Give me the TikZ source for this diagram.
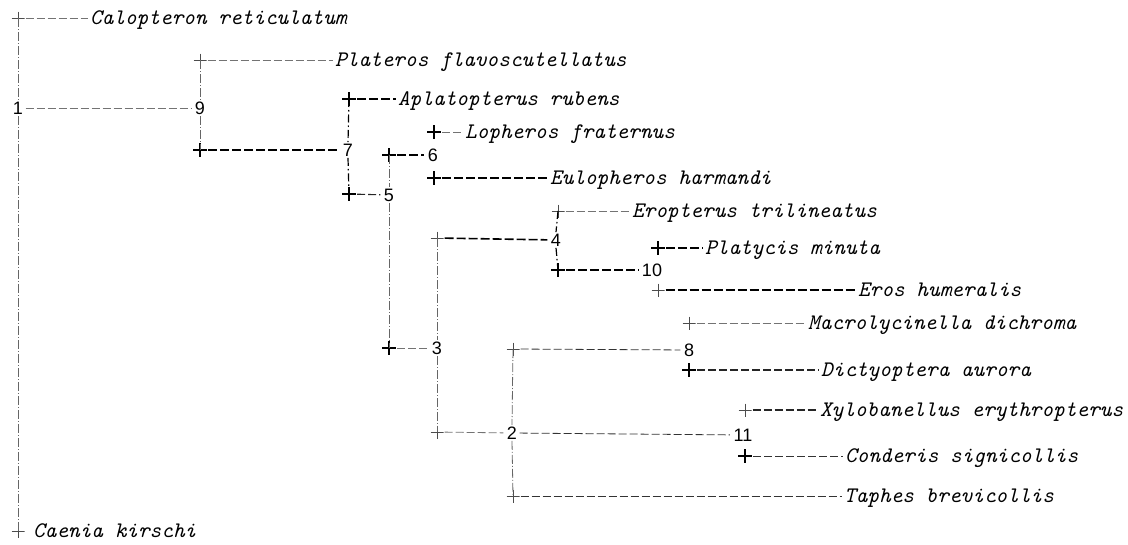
\documentclass[tikz,border=0pt]{standalone}
\usepackage{fontspec}
\setmainfont{Liberation Sans}

\tikzset{
  x=1pt, y=-1pt,
  taxon/.style={anchor=mid west, inner sep=0pt, yshift=-3.5pt,
    font=\ttfamily\itshape\fontsize{22.2}{23}\selectfont},
  num/.style={inner sep=1.5pt, font=\fontsize{18}{18}\selectfont},
  plus/.style={minimum size=13pt, inner sep=0pt,
    path picture={\draw[black!70, line width=0.8pt]
      (path picture bounding box.north) -- (path picture bounding box.south)
      (path picture bounding box.west) -- (path picture bounding box.east);}},
  plusbold/.style={minimum size=14pt, inner sep=0pt,
    path picture={\draw[black, line width=1.5pt]
      (path picture bounding box.north) -- (path picture bounding box.south)
      (path picture bounding box.west) -- (path picture bounding box.east);}},
  hthin/.style={draw=black!55, line width=0.8pt, dash pattern=on 8pt off 3pt,
    shorten >=2pt, shorten <=1pt},
  hmid/.style={draw=black!85, line width=1.1pt, dash pattern=on 8pt off 3pt,
    shorten >=2pt, shorten <=1pt},
  hbold/.style={draw=black, line width=1.6pt, dash pattern=on 9pt off 3pt,
    shorten >=2pt, shorten <=1pt},
  vline/.style={draw=black!60, line width=0.8pt,
    dash pattern=on 9pt off 2pt on 1pt off 2pt},
  vbold/.style={draw=black, line width=1.2pt,
    dash pattern=on 8pt off 3pt on 1.5pt off 3pt},
}

\begin{document}
\begin{tikzpicture}
\useasboundingbox (0,0) rectangle (1128,544);

% ---- root and outgroups
\node[plus] (cCal) at (18,18) {};
\node[taxon] (tCal) at (90,18) {Calopteron reticulatum};
\node[plus] (cCae) at (18,531) {};
\node[taxon] (tCae) at (33,531) {Caenia kirschi};
\node[num] (n1) at (18,108) {1};

% ---- clade 9
\node[num] (n9) at (200,108) {9};
\node[plus] (cPla) at (200,60) {};
\node[taxon] (tPla) at (335,60) {Plateros flavoscutellatus};
\node[plusbold] (c9b) at (200,150) {};

% ---- clade 7
\node[num] (n7) at (348,150) {7};
\node[plusbold] (cApl) at (349,99) {};
\node[taxon] (tApl) at (398,99) {Aplatopterus rubens};
\node[plusbold] (c7b) at (349,194) {};

% ---- clade 5
\node[num] (n5) at (389,195) {5};
\node[plusbold] (c5a) at (389,155) {};
\node[plusbold] (c5b) at (389,348) {};

% ---- clade 6
\node[num] (n6) at (433,155) {6};
\node[plusbold] (cLop) at (434,132) {};
\node[taxon] (tLop) at (465,132) {Lopheros fraternus};
\node[plusbold] (cEul) at (434,178) {};
\node[taxon] (tEul) at (550,178) {Eulopheros harmandi};

% ---- clade 3
\node[num] (n3) at (437,348) {3};
\node[plus] (c3a) at (437,238) {};
\node[plus] (c3b) at (437,432) {};

% ---- clade 4
\node[num] (n4) at (556,240) {4};
\node[plus] (cEro) at (558,211) {};
\node[taxon] (tEro) at (632,211) {Eropterus trilineatus};
\node[plusbold] (c4b) at (558,270) {};

% ---- clade 10
\node[num] (n10) at (652,270) {10};
\node[plusbold] (cPlat) at (658,248) {};
\node[taxon] (tPlat) at (705,248) {Platycis minuta};
\node[plus] (cEros) at (658,290) {};
\node[taxon] (tEros) at (858,290) {Eros humeralis};

% ---- clade 2
\node[num] (n2) at (512,433) {2};
\node[plus] (c2a) at (513,349) {};
\node[plus] (c2b) at (513,496) {};
\node[taxon] (tTap) at (844,496) {Taphes brevicollis};

% ---- clade 8
\node[num] (n8) at (689,350) {8};
\node[plus] (cMac) at (689,323) {};
\node[taxon] (tMac) at (808,323) {Macrolycinella dichroma};
\node[plusbold] (cDic) at (689,370) {};
\node[taxon] (tDic) at (821,370) {Dictyoptera aurora};

% ---- clade 11
\node[num] (n11) at (743,435) {11};
\node[plus] (cXyl) at (745,410) {};
\node[taxon] (tXyl) at (820,410) {Xylobanellus erythropterus};
\node[plusbold] (cCon) at (745,456) {};
\node[taxon] (tCon) at (845,456) {Conderis signicollis};

% ---- vertical branches
\draw[vline] (cCal.center) -- (n1.north);
\draw[vline] (n1.south) -- (cCae.center);
\draw[vline] (cPla.center) -- (n9.north);
\draw[vline] (n9.south) -- (c9b.center);
\draw[vbold] (cApl.center) -- (n7.north);
\draw[vbold] (n7.south) -- (c7b.center);
\draw[vline] (c5a.center) -- (n5.north);
\draw[vline] (n5.south) -- (c5b.center);
\draw[vline] (c3a.center) -- (n3.north);
\draw[vline] (n3.south) -- (c3b.center);
\draw[vbold] (cEro.center) -- (n4.north);
\draw[vbold] (n4.south) -- (c4b.center);
\draw[vline] (c2a.center) -- (n2.north);
\draw[vline] (n2.south) -- (c2b.center);

% ---- horizontal branches
\draw[hthin] (cCal) -- (tCal.west |- cCal);
\draw[hthin] (n1) -- (n9);
\draw[hthin] (cPla) -- (tPla.west |- cPla);
\draw[hbold] (c9b) -- (n7);
\draw[hbold] (cApl) -- (tApl.west |- cApl);
\draw[hmid] (c7b) -- (n5);
\draw[hbold] (c5a) -- (n6);
\draw[hthin] (cLop) -- (tLop.west |- cLop);
\draw[hbold] (cEul) -- (tEul.west |- cEul);
\draw[hthin] (c5b) -- (n3);
\draw[hbold] (c3a) -- (n4);
\draw[hthin] (cEro) -- (tEro.west |- cEro);
\draw[hbold] (c4b) -- (n10);
\draw[hbold] (cPlat) -- (tPlat.west |- cPlat);
\draw[hbold] (cEros) -- (tEros.west |- cEros);
\draw[hthin] (c3b) -- (n2);
\draw[hthin, draw=black!80] (n2) -- (n11);
\draw[hthin, draw=black!80] (c2a) -- (n8);
\draw[hthin] (cMac) -- (tMac.west |- cMac);
\draw[hmid] (cDic) -- (tDic.west |- cDic);
\draw[hmid] (cXyl) -- (tXyl.west |- cXyl);
\draw[hthin, draw=black!80] (cCon) -- (tCon.west |- cCon);
\draw[hthin, draw=black!80] (c2b) -- (tTap.west |- c2b);
\end{tikzpicture}
\end{document}
